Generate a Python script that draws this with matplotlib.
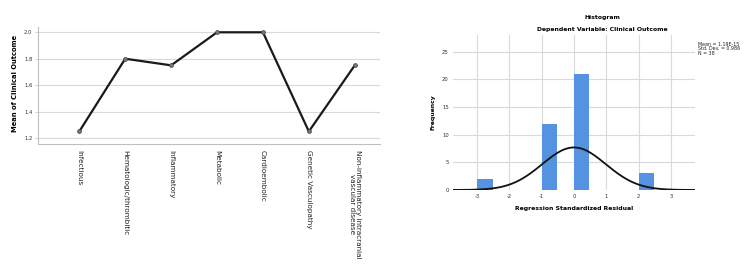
import numpy as np
import matplotlib
matplotlib.use("Agg")
import matplotlib.pyplot as plt

# ---- data ----
categories = ["Infectious", "Hematologic/thrombitic", "Inflammatory", "Metabolic",
              "Cardioembolic", "Genetic Vasculopathy",
              "Non-inflammatory intracranial\nvascular disease"]
mean_outcome = [1.25, 1.80, 1.75, 2.00, 2.00, 1.25, 1.75]

bin_left = [-3.0, -1.0, 0.0, 2.0]
bin_counts = [2, 12, 21, 3]
bin_width = 0.5
resid_mean = 1.19e-15
resid_sd = 0.986
resid_n = 38

fig = plt.figure(figsize=(7.5, 2.66), dpi=100)
fig.patch.set_facecolor("white")

grid_c = "#d9d9d9"
spine_c = "#bfbfbf"

# ---- left line chart ----
ax1 = fig.add_axes([38/750, 1-144/266, (380-38)/750, (144-27)/266])
x = np.arange(len(categories))
ax1.plot(x, mean_outcome, color="#1a1a1a", lw=1.6, marker="o", ms=2.8,
         mfc="#777777", mec="#444444", mew=0.5, zorder=3)
ax1.set_xlim(-0.9, 6.55)
ax1.set_ylim(1.155, 2.04)
ax1.set_yticks([1.2, 1.4, 1.6, 1.8, 2.0])
ax1.set_yticklabels(["1.2", "1.4", "1.6", "1.8", "2.0"], fontsize=3.8, color="#333333")
ax1.set_xticks(x)
ax1.set_xticklabels(categories, rotation=270, fontsize=5.2, color="#222222",
                    va="top", ha="center", linespacing=1.0)
ax1.tick_params(axis="x", length=0, pad=4)
ax1.tick_params(axis="y", length=2, width=0.5, color=spine_c, pad=2)
ax1.yaxis.grid(True, color=grid_c, lw=0.8)
ax1.set_axisbelow(True)
for s in ["top", "right"]:
    ax1.spines[s].set_visible(False)
for s in ["left", "bottom"]:
    ax1.spines[s].set_color(spine_c)
    ax1.spines[s].set_linewidth(0.8)
ax1.set_ylabel("Mean of Clinical Outcome", fontsize=4.9, fontweight="bold")
ax1.yaxis.set_label_coords(-0.058, 0.52)

# ---- right histogram ----
ax2 = fig.add_axes([453/750, 1-190/266, (695-453)/750, (190-35)/266])
ax2.bar(bin_left, bin_counts, width=bin_width*0.96, align="edge",
        color="#5593E0", edgecolor="none", zorder=2)
xs = np.linspace(-3.75, 3.75, 400)
pdf = resid_n * bin_width / (np.sqrt(2*np.pi) * resid_sd) * \
    np.exp(-0.5 * ((xs - resid_mean) / resid_sd) ** 2)
ax2.plot(xs, pdf, color="#111111", lw=1.3, zorder=3)
ax2.set_xlim(-3.75, 3.75)
ax2.set_ylim(0, 28)
ax2.set_xticks([-3, -2, -1, 0, 1, 2, 3])
ax2.set_xticklabels(["-3", "-2", "-1", "0", "1", "2", "3"], fontsize=3.8, color="#333333")
ax2.set_yticks([0, 5, 10, 15, 20, 25])
ax2.set_yticklabels(["0", "5", "10", "15", "20", "25"], fontsize=3.8, color="#333333")
ax2.tick_params(length=0, pad=3)
ax2.grid(True, color=grid_c, lw=0.8)
ax2.set_axisbelow(True)
for s in ax2.spines.values():
    s.set_visible(False)
ax2.set_xlabel("Regression Standardized Residual", fontsize=4.4, fontweight="bold")
ax2.xaxis.set_label_coords(0.5, -0.103)
ax2.set_ylabel("Frequency", fontsize=4.4, fontweight="bold")
ax2.yaxis.set_label_coords(-0.074, 0.5)

fig.text(602/750, 1-18/266, "Histogram", fontsize=4.4, fontweight="bold",
         ha="center", va="center")
fig.text(602/750, 1-30/266, "Dependent Variable: Clinical Outcome", fontsize=4.4,
         fontweight="bold", ha="center", va="center")
fig.text(698/750, 1-49/266,
         f"Mean = 1.19E-15\nStd. Dev. = {resid_sd:.3f}\nN = {resid_n}",
         fontsize=3.4, ha="left", va="center", linespacing=0.95, color="#222222")

fig.savefig("out.png", dpi=100, facecolor="white")
